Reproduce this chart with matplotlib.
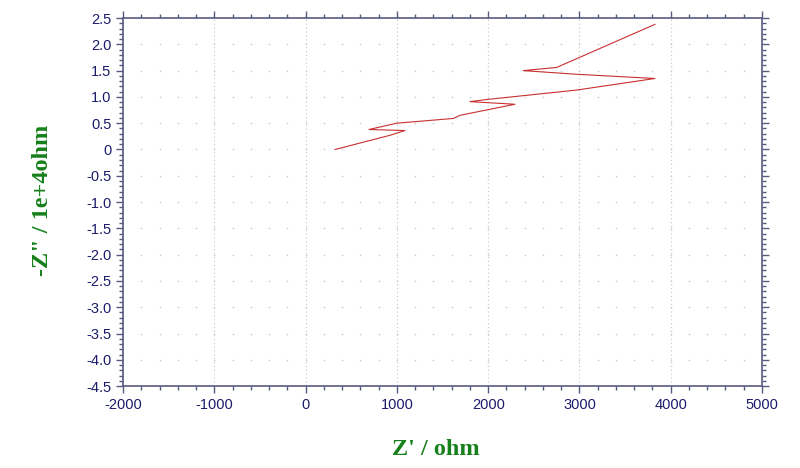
import matplotlib
matplotlib.use('Agg')
import matplotlib.pyplot as plt
from matplotlib.ticker import MultipleLocator
import numpy as np

# Nyquist data: Z' (ohm), -Z'' (1e4 ohm)
z_re = [322, 924, 1088, 694, 997, 1618, 1691, 2293, 1800, 1983, 2969, 3827, 2969, 2384, 2750, 3827]
z_im = [0.00, 0.27, 0.36, 0.38, 0.50, 0.59, 0.65, 0.86, 0.91, 0.95, 1.13, 1.35, 1.43, 1.50, 1.56, 2.38]

x_ticks = list(range(-2000, 5001, 1000))
y_ticks = [2.5, 2.0, 1.5, 1.0, 0.5, 0, -0.5, -1.0, -1.5, -2.0, -2.5, -3.0, -3.5, -4.0, -4.5]
y_labels = ['2.5', '2.0', '1.5', '1.0', '0.5', '0', '-0.5', '-1.0', '-1.5', '-2.0', '-2.5',
            '-3.0', '-3.5', '-4.0', '-4.5']

navy = '#1c1c6b'
spine_col = '#5a5a80'
green = '#17801a'

fig = plt.figure(figsize=(8, 4.68), dpi=100)
ax = fig.add_axes([0.154, 0.175, 0.7985, 0.7865])

# grid: dotted verticals at major x, dots along major y
for xv in x_ticks[1:-1]:
    ax.axvline(xv, color='#c8c8b8', lw=0.8, ls=(0, (1, 2.5)), zorder=0)
gx, gy = np.meshgrid(np.arange(-1800, 5000, 200), y_ticks[1:-1])
ax.scatter(gx.ravel(), gy.ravel(), marker='+', s=4, lw=0.5, color='#d0d0d0', zorder=0)

ax.plot(z_re, z_im, color='#c83030', lw=0.8)

ax.set_xlim(-2000, 5000)
ax.set_ylim(-4.5, 2.5)
ax.set_xticks(x_ticks)
ax.set_xticklabels([str(v) for v in x_ticks])
ax.set_yticks(y_ticks)
ax.set_yticklabels(y_labels)
ax.xaxis.set_minor_locator(MultipleLocator(200))
ax.yaxis.set_minor_locator(MultipleLocator(0.1))

ax.tick_params(which='both', direction='out', top=True, right=True, color=spine_col,
               labelcolor=navy, labelsize=10.5, width=1)
ax.tick_params(which='major', length=5)
ax.tick_params(which='minor', length=3)
for sp in ax.spines.values():
    sp.set_color(spine_col)
    sp.set_linewidth(1.2)
for lbl in ax.get_xticklabels() + ax.get_yticklabels():
    lbl.set_family('Liberation Sans')

ax.set_xlabel("Z' / ohm", family='Liberation Serif', fontweight='bold', fontsize=17.5,
              color=green)
ax.set_ylabel('-Z" / 1e+4ohm', family='Liberation Serif', fontweight='bold', fontsize=17.5,
              color=green)
ax.xaxis.set_label_coords(0.49, -0.145)
ax.yaxis.set_label_coords(-0.11, 0.505)

fig.savefig('out.png', dpi=100)
